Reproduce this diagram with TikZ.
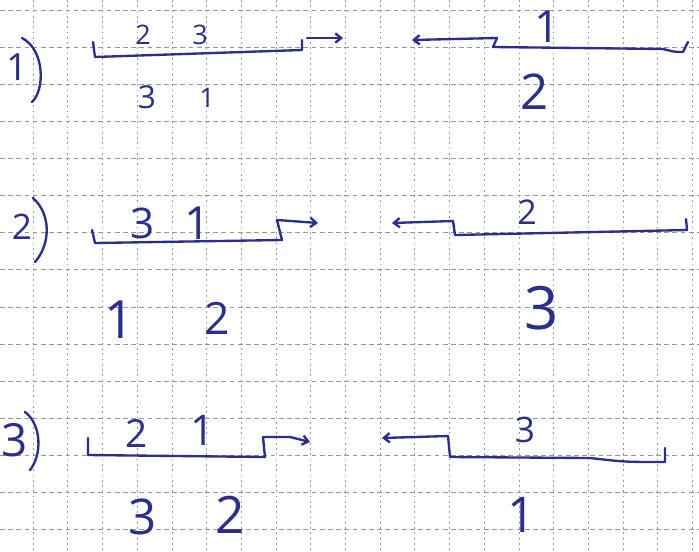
\documentclass[tikz,border=0pt]{standalone}
\usepackage{fontspec}
\setmainfont{Open Sans}
\usepackage{xcolor}
\usepackage{tikz}
\usetikzlibrary{arrows.meta}

\definecolor{ink}{RGB}{42,46,140}
\definecolor{paper}{RGB}{150,150,150}

\begin{document}
\begin{tikzpicture}[
    x=0.03cm, y=-0.03cm,
    >={Straight Barb[length=5pt, width=8pt]},
    pen/.style={draw=ink, line width=2pt, line join=round, line cap=round},
    num/.style={text=ink, inner sep=0pt, font=\fontsize{#1}{#1}\selectfont},
    hgrid/.style={draw=paper, line width=0.5pt, dash pattern=on 4pt off 3pt},
    vgrid/.style={draw=paper, line width=0.5pt, dash pattern=on 1.5pt off 3pt}
]
\useasboundingbox (0,0) rectangle (699,551);
\fill[white] (0,0) rectangle (699,551);

% Squared paper.
\foreach \k in {0,...,19}
  \draw[vgrid] (33+34.7*\k,0) -- (33+34.7*\k,551);
\foreach \k in {0,...,14}
  \draw[hgrid] (0,10+37.1*\k) -- (699,10+37.1*\k);

% Row 1.
\node[num=32] (row1) at (17,67) {1};
\draw[pen] (22,38) .. controls (45,50) and (45,90) .. (32,102);
\coordinate (l1s) at (93,42);
\coordinate (l1c) at (95,57);
\coordinate (l1e) at (302,50);
\coordinate (l1t) at (302,40);
\coordinate (l1p) at (307,38);
\coordinate (l1q) at (343,38);
\draw[pen] (l1s) -- (l1c) -- (l1e) -- (l1t);
\draw[pen, ->] (l1p) -- (l1q);
\node[num=23] (l1a) at (143,35) {2};
\node[num=23] (l1b) at (200,35) {3};
\node[num=27] (l1d) at (147,97) {3};
\node[num=23] (l1f) at (207,98) {1};

\coordinate (r1q) at (412,40);
\coordinate (r1p) at (497,38);
\coordinate (r1c) at (493,47);
\coordinate (r1e) at (683,52);
\coordinate (r1t) at (688,42);
\draw[pen, ->] (r1p) -- (r1q);
\draw[pen] (r1p) -- (r1c) -- (663,49) .. controls (675,52) .. (r1e) -- (r1t);
\node[num=38] (r1a) at (547,27) {1};
\node[num=42] (r1b) at (535,92) {2};

% Row 2.
\node[num=30] (row2) at (22,227) {2};
\draw[pen] (33,198) .. controls (52,215) and (50,245) .. (35,262);
\coordinate (l2s) at (92,230);
\coordinate (l2c) at (95,243);
\coordinate (l2e) at (282,240);
\coordinate (l2t) at (277,220);
\coordinate (l2q) at (318,223);
\draw[pen] (l2s) -- (l2c) -- (l2e) -- (l2t);
\draw[pen, ->] (l2t) -- (l2q);
\node[num=36] (l2a) at (143,223) {3};
\node[num=39] (l2b) at (198,223) {1};
\node[num=45] (l2d) at (120,320) {1};
\node[num=38] (l2f) at (217,318) {2};

\coordinate (r2q) at (392,223);
\coordinate (r2p) at (453,221);
\coordinate (r2c) at (455,235);
\coordinate (r2e) at (687,230);
\coordinate (r2t) at (686,219);
\draw[pen, ->] (r2p) -- (r2q);
\draw[pen] (r2p) -- (r2c) -- (r2e) -- (r2t);
\node[num=29] (r2a) at (527,212) {2};
\node[num=51] (r2b) at (542,308) {3};

% Row 3.
\node[num=39] (row3) at (15,440) {3};
\draw[pen] (25,412) .. controls (42,425) and (42,455) .. (30,470);
\coordinate (l3s) at (88,438);
\coordinate (l3c) at (88,455);
\coordinate (l3e) at (265,457);
\coordinate (l3t) at (263,437);
\coordinate (l3m) at (290,437);
\coordinate (l3q) at (310,442);
\draw[pen] (l3s) -- (l3c) -- (l3e) -- (l3t);
\draw[pen, ->] (l3t) -- (l3m) -- (l3q);
\node[num=33] (l3a) at (137,433) {2};
\node[num=36] (l3b) at (203,430) {1};
\node[num=42] (l3d) at (143,517) {3};
\node[num=44] (l3f) at (230,515) {2};

\coordinate (r3q) at (382,438);
\coordinate (r3p) at (448,436);
\coordinate (r3c) at (450,457);
\coordinate (r3e) at (665,462);
\coordinate (r3t) at (665,448);
\draw[pen, ->] (r3p) -- (r3q);
\draw[pen] (r3p) -- (r3c) -- (590,458) .. controls (625,462) .. (r3e) -- (r3t);
\node[num=30] (r3a) at (525,430) {3};
\node[num=42] (r3b) at (522,515) {1};

\end{tikzpicture}
\end{document}
